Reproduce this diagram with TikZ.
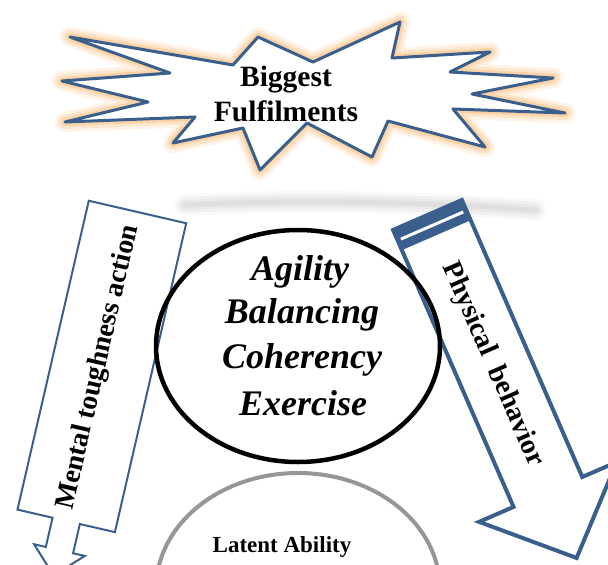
\documentclass[tikz,border=0pt]{standalone}
\usepackage{fontspec}
\setmainfont{Liberation Serif}
\definecolor{arrowblue}{RGB}{59,95,140}
\definecolor{glow}{RGB}{250,196,138}
\definecolor{ringgray}{RGB}{150,150,150}
\tikzset{
  starline/.style={draw=arrowblue, line width=3pt, line join=round, fill=white},
  arrowline/.style={draw=arrowblue, line join=miter},
  bigtxt/.style={font=\fontsize{36}{44}\selectfont\bfseries\itshape, inner sep=0pt, anchor=base},
  arrowtxt/.style={font=\fontsize{28}{34}\selectfont\bfseries, inner sep=0pt},
}
\begin{document}
\begin{tikzpicture}[x=1pt,y=-1pt]
\useasboundingbox (0,0) rectangle (608,565);
\clip (0,0) rectangle (608,565);
% faint shadow streak under star
\foreach \w/\o in {22/0.025,16/0.03,10/0.035,5/0.04}
  \draw[black, line width=\w, opacity=\o, line cap=round] (185,205) .. controls (300,199) and (420,202) .. (535,210);
% star glow
\foreach \w/\o in {20/0.2,14/0.3,8/0.55}
  \draw[glow, line width=\w, opacity=\o, line join=round]
   (70,37) -- (233,65) -- (258,37) -- (313,62) -- (400,22) -- (392,58) -- (490,52) -- (450,72) -- (553,78) -- (472,94) -- (565,113) -- (453,109) -- (485,147) -- (388,121) -- (372,157) -- (307,123) -- (260,170) -- (243,128) -- (173,143) -- (195,117) -- (65,122) -- (148,102) -- (62,81) -- (170,73) -- cycle;
\path[starline]
   (70,37) -- (233,65) -- (258,37) -- (313,62) -- (400,22) -- (392,58) -- (490,52) -- (450,72) -- (553,78) -- (472,94) -- (565,113) -- (453,109) -- (485,147) -- (388,121) -- (372,157) -- (307,123) -- (260,170) -- (243,128) -- (173,143) -- (195,117) -- (65,122) -- (148,102) -- (62,81) -- (170,73) -- cycle;
\node[font=\fontsize{29.5}{35}\selectfont\bfseries, align=center, inner sep=0pt] (star) at (286,94) {Biggest\\Fulfilments};
% left arrow
\begin{scope}[shift={(137.5,212)}, rotate=-13]
  \draw[arrowline, line width=2pt] (-50,0) -- (50,0) -- (50,317) -- (14,317) -- (14,347) -- (26,347) -- (0,373) -- (-26,347) -- (-14,347) -- (-14,317) -- (-50,317) -- cycle;
  \node[arrowtxt, rotate=77] (mental) at (-3,160) {Mental toughness action};
\end{scope}
% right arrow
\begin{scope}[shift={(427.5,215)}, rotate=23.5]
  \fill[arrowblue] (-37.5,0) rectangle (37.5,22);
  \draw[white, line width=3pt] (-34,11.5) -- (34,11.5);
  \draw[arrowline, line width=4pt] (-37.5,0) -- (37.5,0) -- (37.5,302) -- (75,302) -- (0,374) -- (-75,302) -- (-37.5,302) -- cycle;
  \node[arrowtxt, rotate=-66.5] (phys) at (0,163) {Physical\ \ behavior};
\end{scope}
% ellipses
\draw[ringgray, line width=4pt] (298,589) ellipse [x radius=142, y radius=116];
\node[font=\fontsize{23}{28}\selectfont\bfseries, inner sep=0pt, anchor=base] (latent) at (282,552) {Latent Ability};
\draw[black, line width=4.5pt] (298,346) ellipse [x radius=142, y radius=116];
\node[bigtxt] (ag) at (300,280) {Agility};
\node[bigtxt] (ba) at (302,323) {Balancing};
\node[bigtxt] (co) at (302,368) {Coherency};
\node[bigtxt] (ex) at (303,415) {Exercise};
\end{tikzpicture}
\end{document}
